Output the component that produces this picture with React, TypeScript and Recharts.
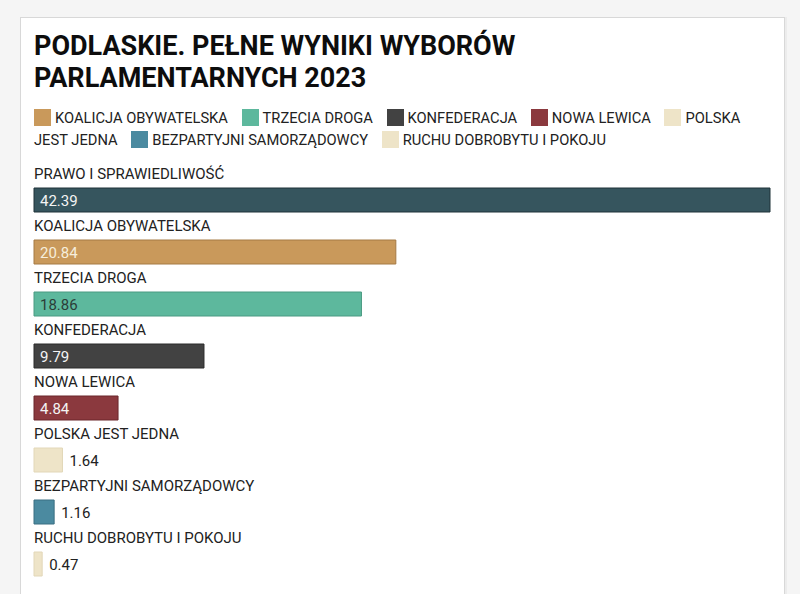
import React from 'react';
import { BarChart, Bar, XAxis, YAxis, Cell, LabelList } from 'recharts';

const categories = [
  'PRAWO I SPRAWIEDLIWOŚĆ',
  'KOALICJA OBYWATELSKA',
  'TRZECIA DROGA',
  'KONFEDERACJA',
  'NOWA LEWICA',
  'POLSKA JEST JEDNA',
  'BEZPARTYJNI SAMORZĄDOWCY',
  'RUCHU DOBROBYTU I POKOJU',
];
const values = [42.39, 20.84, 18.86, 9.79, 4.84, 1.64, 1.16, 0.47];
const valueLabels = ['42.39', '20.84', '18.86', '9.79', '4.84', '1.64', '1.16', '0.47'];
const fills = ['#36555e', '#c9995b', '#5db89d', '#424242', '#8b393e', '#eee4c8', '#4b8aa0', '#eee4c8'];
const strokes = ['#1f3238', '#a57a45', '#4a9a82', '#2a2a2a', '#6a272b', '#e2d7b8', '#3a6f82', '#e2d7b8'];
const insideLabelColors = ['#f4f4f4', '#f6eedc', '#2c3d38', '#f4f4f4', '#f4f4f4', '#222', '#222', '#222'];
const legendNames = categories.slice(1);
const legendColors = fills.slice(1);

const title = ['PODLASKIE. PEŁNE WYNIKI WYBORÓW', 'PARLAMENTARNYCH 2023'];

const data = categories.map((name, i) => ({ name, value: values[i], idx: i }));

const FONT = 'Roboto, "Noto Sans", sans-serif';

const NameLabel = (props: any) => {
  const { x, y, index } = props;
  return (
    <text x={x} y={y - 9} fill="#222" fontSize={15} fontFamily={FONT}>
      {categories[index]}
    </text>
  );
};

const ValueLabel = (props: any) => {
  const { x, y, width, height, index } = props;
  const inside = width > 50;
  return (
    <text
      x={inside ? x + 6 : x + width + 7}
      y={y + height / 2 + 5.5}
      fill={inside ? insideLabelColors[index] : '#222'}
      fontSize={15}
      fontFamily={FONT}
    >
      {valueLabels[index]}
    </text>
  );
};

export default function App() {
  return (
    <div
      style={{
        position: 'fixed',
        left: 0,
        top: 0,
        width: 800,
        height: 594,
        background: '#f5f5f5',
        overflow: 'hidden',
        fontFamily: FONT,
      }}
    >
      <div
        style={{
          position: 'absolute',
          left: 20,
          top: 17,
          width: 763,
          height: 620,
          background: '#fff',
          border: '1px solid #d8d8d8',
          boxShadow: '2px 0 0 #ececec',
        }}
      />
      <div
        style={{
          position: 'absolute',
          left: 34,
          top: 30,
          fontSize: 27,
          lineHeight: '32px',
          fontWeight: 700,
          color: '#0d0d0d',
        }}
      >
        {title.map((t) => (
          <div key={t}>{t}</div>
        ))}
      </div>
      <div
        style={{
          position: 'absolute',
          left: 34,
          top: 107,
          width: 736,
          fontSize: 14.7,
          lineHeight: '22px',
          color: '#222',
        }}
      >
        {legendNames.map((n, i) => {
          const words = n.split(' ');
          return (
            <React.Fragment key={n}>
              <span
                style={{
                  display: 'inline-block',
                  width: 17,
                  height: 17,
                  background: legendColors[i],
                  verticalAlign: -3,
                  marginRight: 4,
                }}
              />
              {words.map((w, j) => (
                <React.Fragment key={j}>
                  <span style={{ marginRight: j === words.length - 1 ? 10 : 0 }}>{w}</span>
                  {' '}
                </React.Fragment>
              ))}
            </React.Fragment>
          );
        })}
      </div>
      <div style={{ position: 'absolute', left: 0, top: 0 }}>
        <BarChart
          width={800}
          height={594}
          data={data}
          layout="vertical"
          margin={{ top: 174, right: 30, bottom: 4, left: 34 }}
        >
          <XAxis type="number" domain={[0, 42.39]} hide />
          <YAxis type="category" dataKey="name" hide />
          <Bar dataKey="value" barSize={24} isAnimationActive={false} strokeWidth={1}>
            {data.map((d, i) => (
              <Cell key={d.name} fill={fills[i]} stroke={strokes[i]} />
            ))}
            <LabelList dataKey="name" content={NameLabel} />
            <LabelList dataKey="value" content={ValueLabel} />
          </Bar>
        </BarChart>
      </div>
    </div>
  );
}
